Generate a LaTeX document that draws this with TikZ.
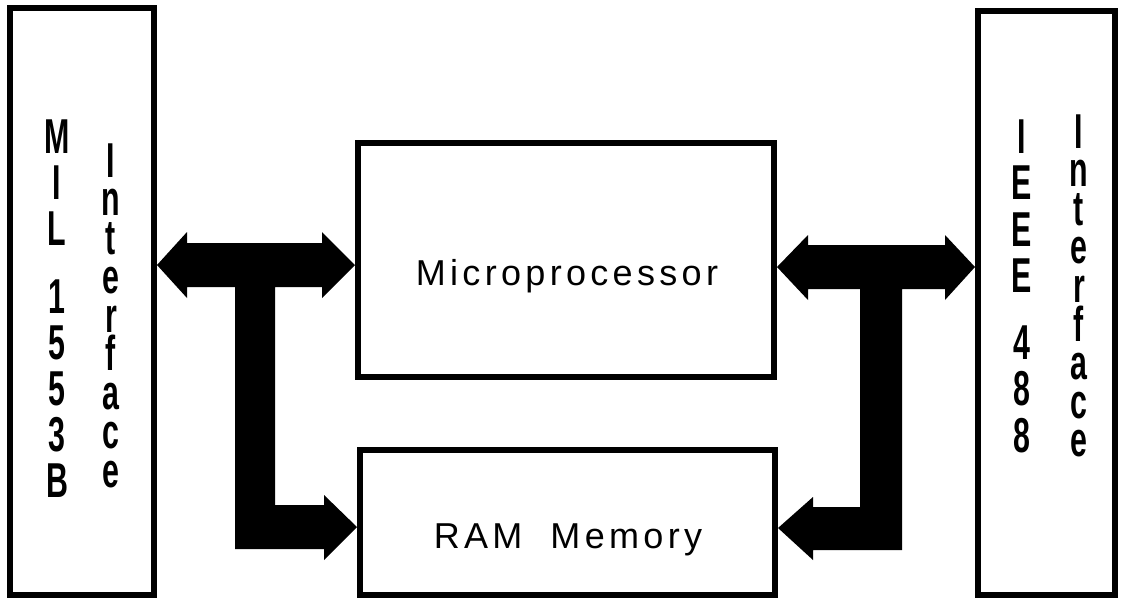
\documentclass[tikz,border=0pt]{standalone}
\usepackage{fontspec}
\setmainfont{Liberation Sans}
\newfontfamily\boxfont[LetterSpace=12]{Liberation Sans}
\newfontfamily\stackfont{Liberation Sans}
\newcommand{\nar}[1]{\scalebox{0.62}[1]{#1}}
\newcommand{\vstack}[2]{\vtop{\baselineskip=#1\lineskiplimit=-\maxdimen\lineskip=0pt\halign{\hfil##\hfil\cr#2\crcr}}}
\begin{document}
\begin{tikzpicture}[x=1pt,y=-1pt,
  blockbox/.style={draw, line width=6pt, inner sep=0pt, rectangle},
  bus/.style={fill=black, draw=none},
  vl/.style={inner sep=0pt, anchor=base, font=\stackfont\bfseries\fontsize{49}{49}\selectfont},
  boxtxt/.style={inner sep=0pt, anchor=base, font=\boxfont\fontsize{36}{40}\selectfont}]
\useasboundingbox (0,0) rectangle (1121,598);

% blocks
\node[blockbox, minimum width=144pt, minimum height=587pt] (mil) at (82,301.5) {};
\node[blockbox, minimum width=137pt, minimum height=584pt] (ieee) at (1046.5,303) {};
\node[blockbox, minimum width=416pt, minimum height=234pt] (micro) at (566,260) {};
\node[blockbox, minimum width=415pt, minimum height=145pt] (ram) at (567.5,522.5) {};

% block texts
\node[boxtxt] (tmicro) at (567,285) {Microprocessor};
\node[boxtxt] (tram) at (568,548) {RAM\hspace{28pt}Memory};

% vertical stacked labels
\node[vl] (milname) at (57,153) {\vstack{46pt}{\nar{M}\cr\nar{I}\cr\nar{L}\cr\noalign{\kern22pt}\nar{1}\cr\nar{5}\cr\nar{5}\cr\nar{3}\cr\nar{B}}};
\node[vl] (milif) at (111,177) {\vstack{38.75pt}{\nar{I}\cr\nar{n}\cr\nar{t}\cr\nar{e}\cr\nar{r}\cr\nar{f}\cr\nar{a}\cr\nar{c}\cr\nar{e}}};
\node[vl] (ieeename) at (1022,153) {\vstack{46.5pt}{\nar{I}\cr\nar{E}\cr\nar{E}\cr\nar{E}\cr\noalign{\kern20pt}\nar{4}\cr\nar{8}\cr\nar{8}}};
\node[vl] (ieeeif) at (1079,148) {\vstack{38.6pt}{\nar{I}\cr\nar{n}\cr\nar{t}\cr\nar{e}\cr\nar{r}\cr\nar{f}\cr\nar{a}\cr\nar{c}\cr\nar{e}}};

% left bus (T with three heads)
\coordinate (lbL) at (mil.east |- 0,265);
\coordinate (lbR) at (micro.west |- 0,265);
\coordinate (lbD) at (ram.west |- 0,527);
\fill[bus] (lbL) -- (187,232) -- (187,243) -- (322,243) -- (322,232) -- (lbR)
  -- (322,298) -- (322,287) -- (275,287) -- (275,505) -- (324,505) -- (324,495)
  -- (lbD) -- (324,560) -- (324,549) -- (235,549) -- (235,287) -- (187,287)
  -- (187,298) -- cycle;

% right bus
\coordinate (rbL) at (micro.east |- 0,267);
\coordinate (rbR) at (ieee.west |- 0,267);
\coordinate (rbD) at (ram.east |- 0,528);
\fill[bus] (rbL) -- (808,235) -- (808,245) -- (945,245) -- (945,235) -- (rbR)
  -- (945,300) -- (945,289) -- (902,289) -- (902,550) -- (813,550) -- (813,560)
  -- (rbD) -- (813,497) -- (813,507) -- (860,507) -- (860,289) -- (808,289)
  -- (808,300) -- cycle;
\end{tikzpicture}
\end{document}
